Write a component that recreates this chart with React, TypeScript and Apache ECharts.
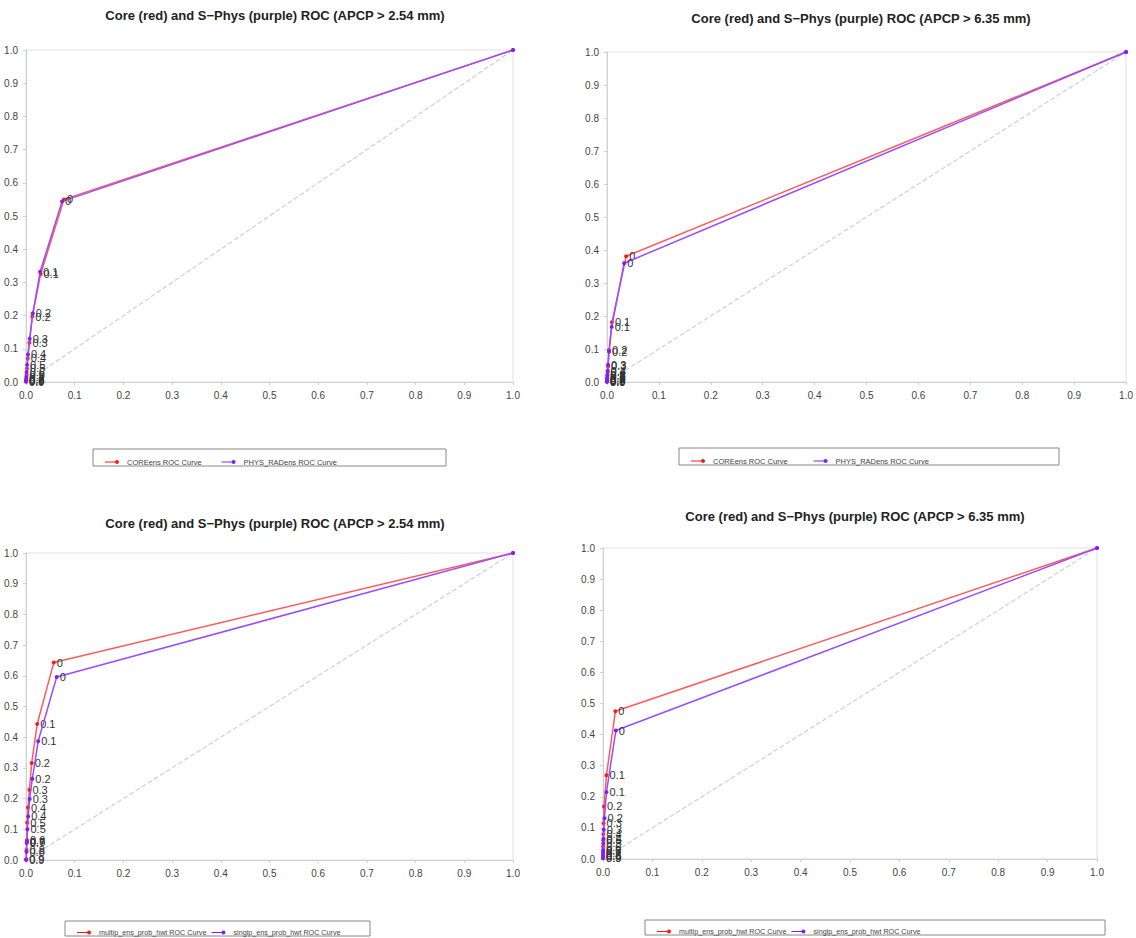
import React, { useEffect, useRef } from "react";
import * as echarts from "echarts";

const thresholdLabels = ["", "0", "0.1", "0.2", "0.3", "0.4", "0.5", "0.6", "0.7", "0.8", "0.9"];

const titles = [
  "Core (red) and S\u2212Phys (purple) ROC (APCP > 2.54 mm)",
  "Core (red) and S\u2212Phys (purple) ROC (APCP > 6.35 mm)",
  "Core (red) and S\u2212Phys (purple) ROC (APCP > 2.54 mm)",
  "Core (red) and S\u2212Phys (purple) ROC (APCP > 6.35 mm)",
];
const redNames = ["COREens ROC Curve", "COREens ROC Curve", "multip_ens_prob_hwt ROC Curve", "multip_ens_prob_hwt ROC Curve"];
const purpleNames = ["PHYS_RADens ROC Curve", "PHYS_RADens ROC Curve", "singlp_ens_prob_hwt ROC Curve", "singlp_ens_prob_hwt ROC Curve"];

// Panel 1 (top-left)
const p1RedFpr = [1, 0.078, 0.030, 0.013, 0.007, 0.0035, 0.002, 0.0012, 0.0006, 0.0003, 0.0001];
const p1RedTpr = [1, 0.550, 0.325, 0.197, 0.118, 0.071, 0.041, 0.022, 0.010, 0.004, 0.001];
const p1PurFpr = [1, 0.074, 0.029, 0.014, 0.0075, 0.004, 0.0022, 0.0013, 0.0007, 0.0003, 0.0001];
const p1PurTpr = [1, 0.544, 0.332, 0.207, 0.130, 0.083, 0.052, 0.030, 0.015, 0.006, 0.002];

// Panel 2 (top-right)
const p2RedFpr = [1, 0.037, 0.0095, 0.004, 0.002, 0.0012, 0.0007, 0.0004, 0.0002, 0.0001, 0.00005];
const p2RedTpr = [1, 0.381, 0.181, 0.097, 0.047, 0.030, 0.019, 0.011, 0.006, 0.003, 0.001];
const p2PurFpr = [1, 0.033, 0.009, 0.004, 0.002, 0.0012, 0.0007, 0.0004, 0.0002, 0.0001, 0.00005];
const p2PurTpr = [1, 0.360, 0.167, 0.092, 0.052, 0.034, 0.022, 0.013, 0.007, 0.003, 0.001];

// Panel 3 (bottom-left)
const p3RedFpr = [1, 0.057, 0.023, 0.0117, 0.007, 0.004, 0.0025, 0.002, 0.0015, 0.001, 0.0003];
const p3RedTpr = [1, 0.643, 0.443, 0.316, 0.229, 0.171, 0.122, 0.065, 0.058, 0.033, 0.003];
const p3PurFpr = [1, 0.063, 0.025, 0.013, 0.0075, 0.0045, 0.003, 0.002, 0.0015, 0.001, 0.0003];
const p3PurTpr = [1, 0.596, 0.387, 0.265, 0.199, 0.142, 0.100, 0.060, 0.055, 0.027, 0.0];

// Panel 4 (bottom-right)
const p4RedFpr = [1, 0.025, 0.007, 0.002, 0.0012, 0.0008, 0.0005, 0.0003, 0.0002, 0.0001, 0.00005];
const p4RedTpr = [1, 0.475, 0.269, 0.169, 0.115, 0.080, 0.060, 0.040, 0.025, 0.013, 0.004];
const p4PurFpr = [1, 0.026, 0.007, 0.003, 0.0015, 0.001, 0.0006, 0.0004, 0.0002, 0.0001, 0.00005];
const p4PurTpr = [1, 0.413, 0.215, 0.131, 0.094, 0.065, 0.050, 0.030, 0.020, 0.010, 0.002];

const redFprs = [p1RedFpr, p2RedFpr, p3RedFpr, p4RedFpr];
const redTprs = [p1RedTpr, p2RedTpr, p3RedTpr, p4RedTpr];
const purFprs = [p1PurFpr, p2PurFpr, p3PurFpr, p4PurFpr];
const purTprs = [p1PurTpr, p2PurTpr, p3PurTpr, p4PurTpr];

const FONT = "Liberation Sans, Arial, Helvetica, sans-serif";
const RED_LINE = "#ff5a5a";
const RED_DOT = "#ff1a1a";
const PUR_LINE = "#9a4dff";
const PUR_DOT = "#7a1fff";

const layout = [
  { grid: { left: 26, top: 50, width: 487, height: 332 }, title: { x: 270, y: 4 }, legendBox: { x: 93, y: 449, w: 353, h: 17 }, legend: { left: 100, top: 453, gap: 20, fs: 7.5 } },
  { grid: { left: 607, top: 52, width: 525, height: 330 }, title: { x: 856, y: 7 }, legendBox: { x: 679, y: 448, w: 380, h: 17 }, legend: { left: 686, top: 452, gap: 26, fs: 7.5 } },
  { grid: { left: 26, top: 553, width: 487, height: 307 }, title: { x: 270, y: 512 }, legendBox: { x: 65, y: 921, w: 305, h: 15 }, legend: { left: 72, top: 924, gap: 5, fs: 7.2 } },
  { grid: { left: 603, top: 548, width: 494, height: 311 }, title: { x: 850, y: 505 }, legendBox: { x: 645, y: 920, w: 460, h: 15 }, legend: { left: 652, top: 923, gap: 5, fs: 7.2 } },
];

const legendIcon = "path://M0,4.5L11,4.5L11,5.5L0,5.5Z M12,3A2,2 0 1,1 11.99,3Z";

export default function App() {
  const ref = useRef<HTMLDivElement>(null);
  useEffect(() => {
    if (!ref.current) return;
    const chart = echarts.init(ref.current, undefined, { renderer: "svg" });

    const grids: any[] = [];
    const xAxes: any[] = [];
    const yAxes: any[] = [];
    const titleOpts: any[] = [];
    const legends: any[] = [];
    const series: any[] = [];
    const graphics: any[] = [];

    const axisCommon = {
      type: "value",
      min: 0,
      max: 1,
      interval: 0.1,
      axisLine: { show: true, lineStyle: { color: "#d0d0d0" } },
      axisTick: { show: true, length: 3, lineStyle: { color: "#d0d0d0" } },
      splitLine: { show: false },
      axisLabel: {
        color: "#444",
        fontSize: 10,
        fontFamily: FONT,
        formatter: (v: number) => v.toFixed(1),
      },
    };

    const mkPoints = (fpr: number[], tpr: number[]) =>
      fpr.map((f, i) => ({ value: [f, tpr[i]], label: { show: thresholdLabels[i] !== "", formatter: thresholdLabels[i] } }));

    layout.forEach((L, i) => {
      grids.push({ ...L.grid, show: true, borderColor: "#e0e0e0", borderWidth: 1, containLabel: false });
      xAxes.push({ ...axisCommon, gridIndex: i });
      yAxes.push({ ...axisCommon, gridIndex: i });
      titleOpts.push({
        text: titles[i],
        left: L.title.x,
        top: L.title.y,
        textAlign: "center",
        textStyle: { fontSize: 13, fontWeight: "bold", color: "#222", fontFamily: FONT },
      });
      legends.push({
        left: L.legend.left,
        top: L.legend.top,
        orient: "horizontal",
        itemWidth: 14,
        itemHeight: 5,
        itemGap: L.legend.gap,
        icon: legendIcon,
        selectedMode: false,
        data: [redNames[i], purpleNames[i]],
        textStyle: { fontSize: L.legend.fs, color: "#444", fontFamily: FONT, padding: [0, 0, 0, 3] },
      });
      graphics.push({
        type: "rect",
        shape: { x: L.legendBox.x, y: L.legendBox.y, width: L.legendBox.w, height: L.legendBox.h },
        style: { fill: "none", stroke: "#888", lineWidth: 1 },
        silent: true,
      });
      series.push({
        type: "line",
        xAxisIndex: i,
        yAxisIndex: i,
        data: [[0, 0], [1, 1]],
        showSymbol: false,
        silent: true,
        lineStyle: { color: "#cfcfcf", type: "dashed", width: 1.2 },
        z: 1,
      });
      const labelStyle = {
        show: true,
        position: "right",
        distance: 1,
        offset: [0, 5],
        fontSize: 11,
        color: "#333",
        fontFamily: FONT,
      };
      series.push({
        name: redNames[i],
        type: "line",
        xAxisIndex: i,
        yAxisIndex: i,
        data: mkPoints(redFprs[i], redTprs[i]),
        symbol: "circle",
        symbolSize: 4,
        showAllSymbol: true,
        lineStyle: { color: RED_LINE, width: 1.5 },
        itemStyle: { color: RED_DOT },
        label: labelStyle,
        labelLayout: { hideOverlap: false },
        z: 3,
      });
      series.push({
        name: purpleNames[i],
        type: "line",
        xAxisIndex: i,
        yAxisIndex: i,
        data: mkPoints(purFprs[i], purTprs[i]),
        symbol: "circle",
        symbolSize: 4,
        showAllSymbol: true,
        lineStyle: { color: PUR_LINE, width: 1.5 },
        itemStyle: { color: PUR_DOT },
        label: labelStyle,
        labelLayout: { hideOverlap: false },
        z: 4,
      });
    });

    chart.setOption({
      animation: false,
      backgroundColor: "#fff",
      title: titleOpts,
      grid: grids,
      xAxis: xAxes,
      yAxis: yAxes,
      legend: legends,
      series,
      graphic: graphics,
    });
    return () => chart.dispose();
  }, []);

  return (
    <div
      ref={ref}
      style={{ position: "fixed", left: 0, top: 0, width: 1136, height: 938, background: "#fff" }}
    />
  );
}
